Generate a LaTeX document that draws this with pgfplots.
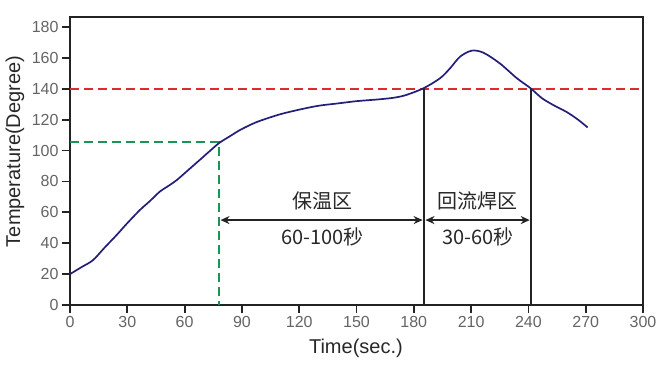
\documentclass[border=0pt]{standalone}
\usepackage{fontspec}
\setmainfont{Liberation Sans}
\newfontfamily\cjk{Noto Sans CJK SC}
\usepackage{pgfplots}
\pgfplotsset{compat=1.18}
\usetikzlibrary{arrows.meta}
\definecolor{navyc}{RGB}{35,30,120}
\definecolor{redc}{RGB}{215,45,45}
\definecolor{greenc}{RGB}{25,150,85}
\definecolor{axisc}{RGB}{35,35,35}
\definecolor{tickc}{RGB}{100,100,100}
\definecolor{txtc}{RGB}{40,40,40}
\begin{document}
\begin{tikzpicture}
\path[use as bounding box] (-70pt,-59pt) rectangle (593pt,305pt);
\begin{axis}[
  scale only axis, width=573pt, height=288pt,
  xmin=0, xmax=300, ymin=0, ymax=186.5,
  xtick={0,30,...,300}, ytick={0,20,...,180},
  tick align=outside, xtick pos=bottom, ytick pos=left,
  major tick length=8pt,
  axis line style={line width=1.8pt, color=axisc},
  major tick style={line width=1.8pt, color=axisc},
  tick label style={font=\fontsize{16}{16}\selectfont, color=tickc},
  /pgf/number format/assume math mode=true,
  xlabel={Time(sec.)}, ylabel={Temperature(Degree)},
  label style={font=\fontsize{20}{20}\selectfont, color=txtc},
  xlabel style={at={(axis description cs:0.499,-0.149)}, anchor=center},
  ylabel style={at={(axis description cs:-0.096,0.533)}, anchor=center},
  clip=false,
]
% reference lines
\addplot[redc, line width=2pt, dash pattern=on 9pt off 5pt] coordinates {(0,140) (300,140)};
\addplot[greenc, line width=2pt, dash pattern=on 9pt off 5pt] coordinates {(0,105.5) (78,105.5) (78,0)};
\addplot[axisc, line width=1.6pt] coordinates {(185.3,0) (185.3,140)};
\addplot[axisc, line width=1.6pt] coordinates {(241.4,0) (241.4,140)};
% profile curve
\addplot[navyc, line width=1.7pt, smooth, tension=0.5] coordinates {
 (0,20) (6,24.5) (12,29) (18,37) (24.4,45.3) (30,53) (36.6,61.5) (42,67.5) (47,73.4)
 (52,77.5) (56,81) (62,87.5) (68,94) (73,99.5) (78.2,105) (84,109.5) (89,113.3)
 (95,117) (100,119.5) (110,123.5) (120,126.5) (130,129) (140,130.5) (150,132)
 (162,133.2) (170,134.3) (176,136) (185,140.3) (193.7,146.8) (199,153.3)
 (204.2,160.8) (210.3,164.7) (216.4,163.4) (225,156.5) (234,146.8) (241,140.5)
 (247,134) (253,129.5) (260,125) (266,120) (271,115)
};
% arrows
\addplot[axisc, line width=1.8pt, {Stealth[length=9pt,width=8pt]}-{Stealth[length=9pt,width=8pt]}] coordinates {(78.8,55) (184.6,55)};
\addplot[axisc, line width=1.8pt, {Stealth[length=9pt,width=8pt]}-{Stealth[length=9pt,width=8pt]}] coordinates {(186.1,55) (240.7,55)};
\node[font=\cjk\fontsize{20}{20}\selectfont, text=txtc] at (axis cs:132.3,67.5) {保温区};
\node[font=\cjk\fontsize{20}{20}\selectfont, text=txtc] at (axis cs:132.3,44.2) {60-100秒};
\node[font=\cjk\fontsize{20}{20}\selectfont, text=txtc] at (axis cs:213.6,67.5) {回流焊区};
\node[font=\cjk\fontsize{20}{20}\selectfont, text=txtc] at (axis cs:213.6,44.2) {30-60秒};
\end{axis}
\end{tikzpicture}
\end{document}
